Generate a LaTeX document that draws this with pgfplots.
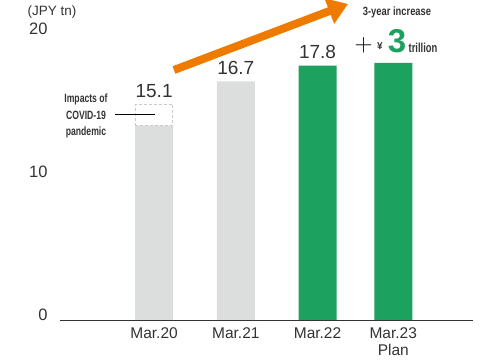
\documentclass[border=0pt]{standalone}
\usepackage{pgfplots}
\pgfplotsset{compat=1.18}
\usepackage{fontspec}
\setmainfont{Liberation Sans}
\usepackage{graphicx}
\usetikzlibrary{arrows.meta}
\definecolor{barGray}{HTML}{DCDDDD}
\definecolor{barGreen}{HTML}{1DA15E}
\definecolor{arrowOrange}{HTML}{EE7B00}
\definecolor{txt}{HTML}{333333}
\definecolor{dashGray}{HTML}{C9CACA}
\begin{document}
\begin{tikzpicture}[x=1pt,y=1pt]
\path[use as bounding box] (0,0) rectangle (500,363);
\begin{axis}[
  at={(60pt,43pt)}, anchor=south west,
  scale only axis, width=413pt, height=320pt,
  xmin=-1.18, xmax=4.0, ymin=0, ymax=22.4,
  axis x line*=bottom, axis y line*=left,
  y axis line style={draw=none},
  x axis line style={-, line width=0.8pt, color=txt},
  xtick={0,1.025,2.05,3.0}, xticklabels={Mar.20,Mar.21,Mar.22,{Mar.23\\Plan}},
  ytick={0,10,20},
  tick style={draw=none},
  xticklabel style={align=center, font=\fontsize{15.5}{17}\selectfont, text=txt, inner sep=2pt, yshift=-1pt},
  yticklabel style={font=\fontsize{16.5}{18}\selectfont, text=txt, xshift=-9pt, yshift=5pt},
  /pgf/number format/assume math mode=true,
  ybar, bar width=38pt, bar shift=0pt,
  clip=false,
]
\addplot[fill=barGray, draw=none] coordinates {(0,13.6) (1.025,16.7)};
\addplot[fill=barGreen, draw=none] coordinates {(2.05,17.8) (3.0,18.0)};
\draw[dashGray, line width=1pt, dash pattern=on 3pt off 2pt] (axis cs:-0.235,13.6) rectangle (axis cs:0.235,15.1);
\node[anchor=base, text=txt, font=\fontsize{19}{20}\selectfont, yshift=7pt] at (axis cs:0,15.1) {15.1};
\node[anchor=base, text=txt, font=\fontsize{19}{20}\selectfont, yshift=7pt] at (axis cs:1.025,16.7) {16.7};
\node[anchor=base, text=txt, font=\fontsize{19}{20}\selectfont, yshift=7pt] at (axis cs:2.05,17.8) {17.8};
\end{axis}
% unit label
\node[text=txt, font=\fontsize{13.5}{14}\selectfont] at (52,351) {(JPY tn)};
% COVID annotation
\node[text=txt, align=center, font=\fontsize{12}{16.5}\selectfont\bfseries] at (86,247) {\scalebox{0.72}[1]{Impacts of}\\\scalebox{0.72}[1]{COVID-19}\\\scalebox{0.72}[1]{pandemic}};
\draw[black, line width=0.8pt] (115,249) -- (155,249);
% arrow
\draw[arrowOrange, line width=8pt, -{Triangle[length=20pt,width=26pt]}] (174,293) -- (348,359);
% increase text
\node[text=txt, font=\fontsize{12}{14}\selectfont\bfseries] at (397,351) {\scalebox{0.78}[1]{3-year increase}};
\node[text=black, inner sep=0pt] at (363.5,318) {\fontsize{23}{23}\selectfont$+$};
\node[text=txt, font=\fontsize{10}{10}\selectfont\bfseries] at (380,317) {¥};
\node[text=barGreen, font=\fontsize{33}{34}\selectfont\bfseries] at (397,322) {3};
\node[text=txt, font=\fontsize{13}{14}\selectfont\bfseries] at (423,315) {\scalebox{0.72}[1]{trillion}};
\end{tikzpicture}
\end{document}
